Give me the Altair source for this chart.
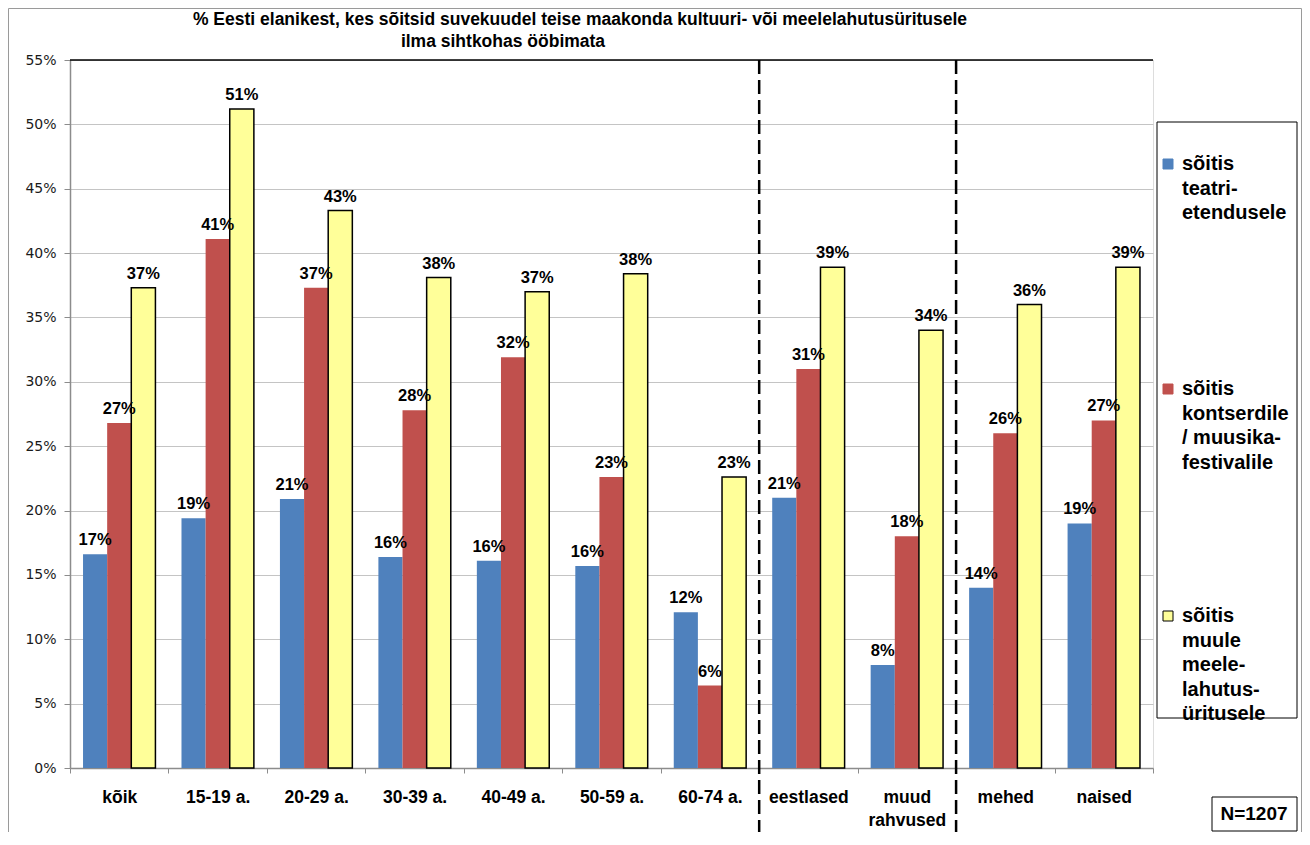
import altair as alt
import pandas as pd

categories = ["kõik", "15-19 a.", "20-29 a.", "30-39 a.", "40-49 a.", "50-59 a.",
              "60-74 a.", "eestlased", "muud\nrahvused", "mehed", "naised"]
series_keys = ["teater", "kontsert", "muu"]
series_legend = ["sõitis\nteatri-\netendusele",
                 "sõitis\nkontserdile\n/ muusika-\nfestivalile",
                 "sõitis\nmuule\nmeele-\nlahutus-\nüritusele"]
series_colors = ["#4F81BD", "#C0504D", "#FFFF99"]

teater = [16.6, 19.4, 20.9, 16.4, 16.1, 15.7, 12.1, 21.0, 8.0, 14.0, 19.0]
kontsert = [26.8, 41.1, 37.3, 27.8, 31.9, 22.6, 6.4, 31.0, 18.0, 26.0, 27.0]
muu = [37.3, 51.2, 43.3, 38.1, 37.0, 38.4, 22.6, 38.9, 34.0, 36.0, 38.9]

y_ticks = [0, 5, 10, 15, 20, 25, 30, 35, 40, 45, 50, 55]
divider_before = ["eestlased", "mehed"]

title_line1 = "% Eesti elanikest, kes sõitsid suvekuudel teise maakonda kultuuri- või  meelelahutusüritusele"
title_line2 = "ilma sihtkohas ööbimata"
n_text = "N=1207"

W, H = 1083, 708
PAD = {"left": 62, "top": 52, "right": 149, "bottom": 64}
BOLD = "Liberation Sans, Arial, sans-serif"

rows = []
for key, vals in zip(series_keys, [teater, kontsert, muu]):
    for c, v in zip(categories, vals):
        rows.append({"cat": c, "series": key, "value": v, "label": f"{round(v)}%"})
df = pd.DataFrame(rows)

xenc = alt.X("cat:N", sort=categories, title=None,
             scale=alt.Scale(paddingInner=0, paddingOuter=0),
             axis=alt.Axis(labelExpr="split(datum.label, '\\n')", labelAngle=0,
                           labelFont=BOLD, labelFontSize=17.5, labelFontWeight="bold",
                           labelColor="black", labelLineHeight=23, labelPadding=15,
                           labelBaseline="top",
                           tickBand="extent", tickSize=5, tickColor="#8c8c8c",
                           domainColor="#8c8c8c", domainWidth=1.5, grid=False))
xoff = alt.XOffset("series:N", sort=series_keys,
                   scale=alt.Scale(paddingInner=0, paddingOuter=0.54))
yenc = alt.Y("value:Q", title=None,
             scale=alt.Scale(domain=[0, 55], nice=False),
             axis=alt.Axis(values=y_ticks, labelExpr="datum.value + '%'",
                           labelFont="DejaVu Sans", labelFontSize=14, labelColor="#1a1a1a",
                           labelPadding=8, tickSize=6, tickColor="#8c8c8c",
                           domainColor="#8c8c8c", domainWidth=1.5,
                           gridColor="#c4c4c4", gridWidth=1))
color = alt.Color("series:N", scale=alt.Scale(domain=series_keys, range=series_colors),
                  legend=None)
stroke = alt.condition(alt.datum.series == "muu", alt.value("black"), alt.value("transparent"))

base = alt.Chart(df)
bars = base.mark_bar(strokeWidth=1.5).encode(x=xenc, xOffset=xoff, y=yenc, color=color,
                                             stroke=stroke)
labels = base.mark_text(font=BOLD, fontSize=16.5, fontWeight="bold", color="black",
                        baseline="alphabetic", dy=-9).encode(
    x=alt.X("cat:N", sort=categories), xOffset=xoff, y="value:Q", text="label:N")

top_line = alt.Chart(pd.DataFrame({"v": [55]})).mark_rule(color="black", strokeWidth=1.5).encode(
    y=alt.Y("v:Q"), x=alt.value(0), x2=alt.value(W))

dividers = alt.Chart(pd.DataFrame({"cat": divider_before})).mark_rule(
    color="black", strokeWidth=2.5, strokeDash=[14, 6]).encode(
    x=alt.X("cat:N", sort=categories, bandPosition=0),
    y=alt.value(0), y2=alt.value(H + PAD["bottom"]))

# legend box
leg_box = alt.Chart(pd.DataFrame({"a": [1]})).mark_rect(
    fill="white", stroke="black", strokeWidth=1).encode(
    x=alt.value(W + 4), x2=alt.value(W + 144), y=alt.value(62), y2=alt.value(658))
leg_layers = [leg_box]
leg_y = [98, 323, 550]
for name, col, yy in zip(series_legend, series_colors, leg_y):
    d = pd.DataFrame({"t": [name]})
    leg_layers.append(alt.Chart(d).mark_rect(
        fill=col, stroke="black" if col == "#FFFF99" else col, strokeWidth=1).encode(
        x=alt.value(W + 10), x2=alt.value(W + 20), y=alt.value(yy + 1), y2=alt.value(yy + 11)))
    leg_layers.append(alt.Chart(d).mark_text(
        font=BOLD, fontSize=20, fontWeight="bold", color="black", align="left",
        baseline="top", lineBreak="\n", lineHeight=24.5).encode(
        x=alt.value(W + 29), y=alt.value(yy - 4), text="t:N"))

# N box
n_box = alt.Chart(pd.DataFrame({"t": [n_text]})).mark_rect(
    fill="white", stroke="black", strokeWidth=1).encode(
    x=alt.value(W + 59), x2=alt.value(W + 144), y=alt.value(737), y2=alt.value(771))
n_lab = alt.Chart(pd.DataFrame({"t": [n_text]})).mark_text(
    font=BOLD, fontSize=19, fontWeight="bold", color="black", align="center",
    baseline="middle").encode(x=alt.value(W + 101), y=alt.value(754), text="t:N")

# titles
t1 = alt.Chart(pd.DataFrame({"t": [title_line1]})).mark_text(
    font=BOLD, fontSize=17.5, fontWeight="bold", color="black", align="center",
    baseline="middle").encode(x=alt.value(510), y=alt.value(-40), text="t:N")
t2 = alt.Chart(pd.DataFrame({"t": [title_line2]})).mark_text(
    font=BOLD, fontSize=17.5, fontWeight="bold", color="black", align="center",
    baseline="middle").encode(x=alt.value(433), y=alt.value(-18), text="t:N")

# outer border
bl = -PAD["left"] + 0.5
br = W + PAD["right"] - 0.5
bt = -PAD["top"] + 0.5
bb = H + PAD["bottom"]
border = [
    alt.Chart(pd.DataFrame({"a": [1]})).mark_rule(color="#9a9a9a", strokeWidth=1).encode(
        x=alt.value(bl), x2=alt.value(br), y=alt.value(bt)),
    alt.Chart(pd.DataFrame({"a": [1]})).mark_rule(color="#9a9a9a", strokeWidth=1).encode(
        x=alt.value(bl), y=alt.value(bt), y2=alt.value(bb)),
    alt.Chart(pd.DataFrame({"a": [1]})).mark_rule(color="#9a9a9a", strokeWidth=1).encode(
        x=alt.value(br), y=alt.value(bt), y2=alt.value(bb)),
]

chart = alt.layer(bars, labels, top_line, dividers, *leg_layers, n_box, n_lab, t1, t2,
                  *border).properties(
    width=W, height=H,
    autosize=alt.AutoSizeParams(type="none"),
    padding=PAD,
).configure_view(stroke="#8c8c8c", strokeWidth=1).configure(background="white")

chart.save("out.html", embed_options={"renderer": "svg", "actions": False})
